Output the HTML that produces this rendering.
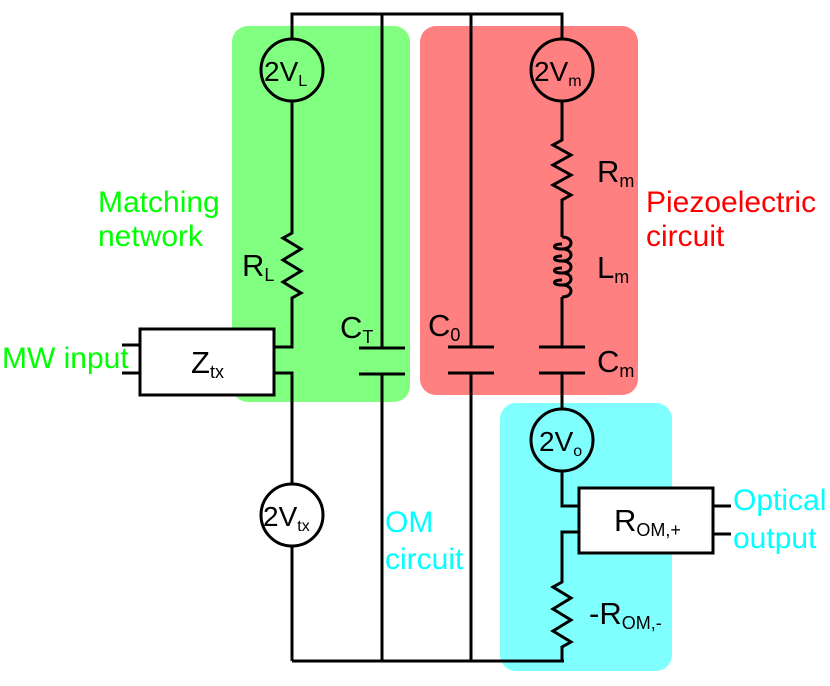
<!DOCTYPE html>
<html><head><style>body{margin:0;background:#fff}svg{display:block}text{font-family:"Liberation Sans",sans-serif}</style></head>
<body>
<svg width="830" height="686" viewBox="0 0 830 686" xmlns="http://www.w3.org/2000/svg">
<rect x="232" y="26" width="178" height="376" rx="16" fill="#80ff80"/>
<rect x="420" y="26" width="218" height="369" rx="16" fill="#ff8080"/>
<rect x="500" y="403" width="172" height="268" rx="16" fill="#80ffff"/>
<g stroke="#000" stroke-width="3" fill="none">
<polyline points="292,39 292,14 562,14 562,39"/>
<line x1="292" y1="661" x2="564" y2="661"/>
<circle cx="292" cy="70" r="31"/>
<polyline points="292,101 292,233 283,238 301,249 283,260 301,271 283,282 301,293 292,298 292,347 274,347"/>
<polyline points="274,373 292,373 292,484"/>
<circle cx="292" cy="515" r="31"/>
<line x1="292" y1="546" x2="292" y2="661"/>
<rect x="140" y="329" width="134" height="66" fill="#fff"/>
<line x1="122" y1="345" x2="140" y2="345"/>
<line x1="122" y1="373" x2="140" y2="373"/>
<line x1="382" y1="14" x2="382" y2="348"/>
<line x1="359" y1="348" x2="405" y2="348"/>
<line x1="359" y1="374" x2="405" y2="374"/>
<line x1="382" y1="374" x2="382" y2="661"/>
<line x1="471" y1="14" x2="471" y2="347"/>
<line x1="448" y1="347" x2="494" y2="347"/>
<line x1="448" y1="373" x2="494" y2="373"/>
<line x1="471" y1="373" x2="471" y2="661"/>
<circle cx="562" cy="70" r="31"/>
<polyline points="562,101 562,140 553,145 571,155 553,165 571,175 553,185 571,195 562,200 562,237"/>
<path d="M562,237 c12,0 12,12 0,12 c-10,0 -10,-5 0,-5 M562,249 c12,0 12,12 0,12 c-10,0 -10,-5 0,-5 M562,261 c12,0 12,12 0,12 c-10,0 -10,-5 0,-5 M562,273 c12,0 12,12 0,12 c-10,0 -10,-5 0,-5 M562,285 c12,0 12,12 0,12"/>
<line x1="562" y1="297" x2="562" y2="347"/>
<line x1="539" y1="347" x2="585" y2="347"/>
<line x1="539" y1="373" x2="585" y2="373"/>
<line x1="562" y1="373" x2="562" y2="409"/>
<circle cx="562" cy="440" r="31"/>
<polyline points="562,471 562,506 579,506"/>
<polyline points="579,532 562,532 562,582 553,587 571,598 553,609 571,620 553,631 571,642 562,647 562,661"/>
<rect x="579" y="488" width="134" height="65" fill="#fff"/>
<line x1="713" y1="506" x2="731" y2="506"/>
<line x1="713" y1="534" x2="731" y2="534"/>
</g>
<g fill="#000" font-size="28">
<text x="264" y="81">2V<tspan font-size="16" dy="5">L</tspan></text>
<text x="534" y="81">2V<tspan font-size="16" dy="5">m</tspan></text>
<text x="263" y="526">2V<tspan font-size="16" dy="5">tx</tspan></text>
<text x="539" y="451">2V<tspan font-size="16" dy="5">o</tspan></text>
<text x="242" y="276" font-size="31">R<tspan font-size="18" dy="5">L</tspan></text>
<text x="597" y="182" font-size="31">R<tspan font-size="18" dy="5">m</tspan></text>
<text x="597" y="278" font-size="31">L<tspan font-size="18" dy="5">m</tspan></text>
<text x="597" y="372" font-size="31">C<tspan font-size="18" dy="5">m</tspan></text>
<text x="428" y="336" font-size="31">C<tspan font-size="18" dy="5">0</tspan></text>
<text x="340" y="338" font-size="31">C<tspan font-size="18" dy="5">T</tspan></text>
<text x="191" y="373" font-size="31">Z<tspan font-size="18" dy="5">tx</tspan></text>
<text x="614" y="531" font-size="31">R<tspan font-size="18" dy="5">OM,+</tspan></text>
<text x="589" y="624" font-size="31">-R<tspan font-size="18" dy="5">OM,-</tspan></text>
</g>
<g fill="#00ff00" font-size="30">
<text x="98" y="212">Matching</text>
<text x="98" y="246">network</text>
<text x="2" y="368">MW input</text>
</g>
<g fill="#ff0000" font-size="30">
<text x="646" y="212">Piezoelectric</text>
<text x="646" y="246">circuit</text>
</g>
<g fill="#00ffff" font-size="30">
<text x="385" y="532">OM</text>
<text x="385" y="569">circuit</text>
<text x="733" y="510">Optical</text>
<text x="733" y="548">output</text>
</g>
</svg>
</body></html>
